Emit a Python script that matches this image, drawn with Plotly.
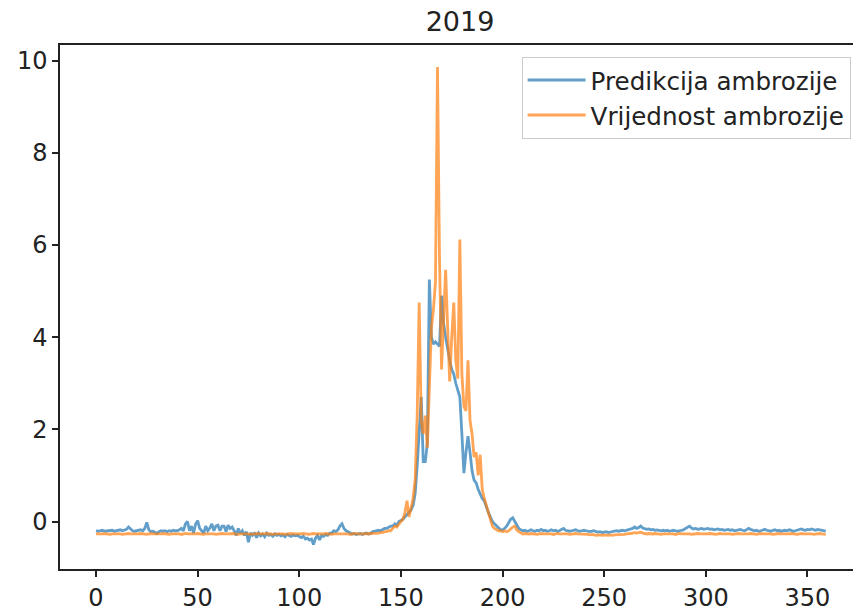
import plotly.graph_objects as go

title_text = "2019"
name_pred = "Predikcija ambrozije"
name_val = "Vrijednost ambrozije"

predikcija = [
    -0.20,-0.21,-0.20,-0.19,-0.20,-0.21,-0.20,-0.20,-0.19,-0.21,-0.20,-0.20,-0.18,-0.20,-0.19,-0.17,-0.12,-0.16,-0.20,-0.21,
    -0.20,-0.19,-0.18,-0.20,-0.15,-0.02,-0.18,-0.22,-0.21,-0.23,-0.26,-0.22,-0.20,-0.21,-0.20,-0.22,-0.20,-0.21,-0.19,-0.20,
    -0.20,-0.18,-0.15,-0.20,-0.05,0.00,-0.20,-0.10,-0.25,-0.06,0.02,-0.15,-0.20,-0.25,-0.10,-0.20,-0.14,-0.05,-0.20,-0.10,
    -0.08,-0.20,-0.10,-0.10,-0.22,-0.08,-0.15,-0.12,-0.20,-0.30,-0.15,-0.26,-0.20,-0.30,-0.22,-0.45,-0.25,-0.30,-0.24,-0.35,
    -0.25,-0.31,-0.27,-0.33,-0.25,-0.30,-0.28,-0.32,-0.27,-0.30,-0.28,-0.31,-0.29,-0.33,-0.28,-0.30,-0.32,-0.29,-0.31,-0.30,
    -0.33,-0.35,-0.32,-0.38,-0.36,-0.40,-0.38,-0.50,-0.36,-0.30,-0.40,-0.30,-0.32,-0.28,-0.30,-0.25,-0.25,-0.20,-0.22,-0.18,
    -0.10,-0.05,-0.15,-0.20,-0.22,-0.25,-0.27,-0.26,-0.28,-0.27,-0.26,-0.28,-0.27,-0.25,-0.27,-0.26,-0.22,-0.21,-0.20,-0.19,
    -0.20,-0.18,-0.15,-0.15,-0.12,-0.10,-0.10,-0.05,-0.08,0.00,0.02,0.05,0.10,0.15,0.20,0.25,0.35,0.60,1.20,2.10,
    2.70,1.30,1.30,1.70,5.25,4.00,3.85,3.90,3.85,3.80,4.90,4.30,4.00,3.70,3.50,3.30,3.20,3.00,2.85,2.70,
    1.90,1.05,1.50,1.85,1.50,1.10,0.90,0.84,0.70,0.60,0.50,0.45,0.30,0.20,0.10,0.00,-0.05,-0.10,-0.15,-0.18,
    -0.18,-0.15,-0.10,-0.02,0.05,0.08,0.00,-0.10,-0.15,-0.18,-0.20,-0.19,-0.21,-0.20,-0.18,-0.20,-0.21,-0.19,-0.20,-0.17,
    -0.20,-0.19,-0.21,-0.20,-0.18,-0.20,-0.19,-0.21,-0.20,-0.17,-0.15,-0.19,-0.20,-0.21,-0.20,-0.19,-0.18,-0.20,-0.21,-0.20,
    -0.19,-0.20,-0.21,-0.22,-0.21,-0.20,-0.22,-0.23,-0.22,-0.24,-0.23,-0.22,-0.24,-0.23,-0.22,-0.21,-0.20,-0.21,-0.20,-0.19,
    -0.20,-0.19,-0.18,-0.17,-0.15,-0.12,-0.15,-0.13,-0.10,-0.14,-0.15,-0.17,-0.16,-0.18,-0.17,-0.19,-0.18,-0.19,-0.20,-0.19,
    -0.20,-0.19,-0.21,-0.20,-0.19,-0.20,-0.21,-0.20,-0.19,-0.18,-0.15,-0.12,-0.10,-0.14,-0.16,-0.15,-0.17,-0.16,-0.15,-0.17,
    -0.16,-0.15,-0.17,-0.16,-0.18,-0.17,-0.16,-0.18,-0.17,-0.19,-0.18,-0.17,-0.19,-0.18,-0.20,-0.19,-0.18,-0.17,-0.19,-0.20,
    -0.18,-0.15,-0.17,-0.19,-0.20,-0.19,-0.21,-0.20,-0.18,-0.17,-0.19,-0.20,-0.21,-0.19,-0.18,-0.20,-0.19,-0.21,-0.20,-0.19,
    -0.20,-0.18,-0.19,-0.21,-0.20,-0.19,-0.17,-0.16,-0.18,-0.19,-0.17,-0.18,-0.16,-0.18,-0.19,-0.17,-0.18,-0.19,-0.20,-0.21,
]

vrijednost = [
    -0.27,-0.27,-0.28,-0.27,-0.26,-0.27,-0.27,-0.28,-0.27,-0.27,-0.26,-0.27,-0.27,-0.28,-0.27,-0.27,-0.26,-0.27,-0.27,-0.28,
    -0.27,-0.27,-0.26,-0.27,-0.27,-0.28,-0.27,-0.26,-0.27,-0.27,-0.28,-0.27,-0.27,-0.26,-0.27,-0.27,-0.28,-0.27,-0.27,-0.26,
    -0.27,-0.27,-0.28,-0.27,-0.26,-0.27,-0.27,-0.28,-0.27,-0.27,-0.26,-0.27,-0.27,-0.28,-0.27,-0.27,-0.26,-0.27,-0.27,-0.28,
    -0.27,-0.27,-0.26,-0.27,-0.27,-0.28,-0.27,-0.26,-0.27,-0.27,-0.28,-0.27,-0.27,-0.26,-0.27,-0.27,-0.28,-0.27,-0.27,-0.26,
    -0.27,-0.27,-0.28,-0.27,-0.26,-0.27,-0.27,-0.28,-0.27,-0.27,-0.26,-0.27,-0.27,-0.28,-0.27,-0.27,-0.26,-0.27,-0.27,-0.28,
    -0.27,-0.27,-0.26,-0.27,-0.27,-0.28,-0.27,-0.26,-0.27,-0.27,-0.28,-0.27,-0.27,-0.26,-0.27,-0.27,-0.28,-0.27,-0.27,-0.26,
    -0.27,-0.27,-0.26,-0.27,-0.27,-0.28,-0.27,-0.26,-0.27,-0.27,-0.28,-0.27,-0.27,-0.26,-0.27,-0.26,-0.26,-0.25,-0.26,-0.25,
    -0.24,-0.24,-0.22,-0.22,-0.20,-0.20,-0.15,-0.10,-0.12,-0.05,0.00,0.05,0.20,0.45,0.10,0.30,0.50,0.90,2.30,4.75,
    2.20,1.90,2.30,1.60,3.00,4.20,4.60,5.20,9.86,5.67,3.30,4.50,5.46,4.20,3.04,4.00,4.75,3.50,3.10,6.12,
    3.20,2.50,2.40,3.50,2.20,1.90,1.40,1.50,1.00,1.45,0.70,0.50,0.35,0.15,0.00,-0.10,-0.15,-0.18,-0.20,-0.20,
    -0.22,-0.20,-0.22,-0.20,-0.15,-0.12,-0.10,-0.18,-0.22,-0.25,-0.27,-0.26,-0.27,-0.27,-0.26,-0.27,-0.27,-0.28,-0.27,-0.26,
    -0.27,-0.27,-0.26,-0.27,-0.27,-0.28,-0.27,-0.26,-0.27,-0.27,-0.26,-0.27,-0.27,-0.28,-0.27,-0.27,-0.26,-0.27,-0.27,-0.28,
    -0.27,-0.28,-0.28,-0.29,-0.28,-0.29,-0.30,-0.29,-0.30,-0.30,-0.29,-0.30,-0.30,-0.29,-0.30,-0.29,-0.29,-0.28,-0.29,-0.28,
    -0.28,-0.27,-0.27,-0.26,-0.25,-0.24,-0.25,-0.24,-0.23,-0.25,-0.26,-0.27,-0.26,-0.27,-0.27,-0.26,-0.27,-0.27,-0.28,-0.27,
    -0.27,-0.27,-0.26,-0.27,-0.27,-0.28,-0.27,-0.26,-0.27,-0.27,-0.26,-0.27,-0.27,-0.28,-0.27,-0.27,-0.26,-0.27,-0.27,-0.28,
    -0.27,-0.27,-0.26,-0.27,-0.27,-0.28,-0.27,-0.26,-0.27,-0.27,-0.26,-0.27,-0.27,-0.28,-0.27,-0.27,-0.26,-0.27,-0.27,-0.28,
    -0.27,-0.27,-0.26,-0.27,-0.27,-0.28,-0.27,-0.26,-0.27,-0.27,-0.26,-0.27,-0.27,-0.28,-0.27,-0.27,-0.26,-0.27,-0.27,-0.28,
    -0.27,-0.27,-0.26,-0.27,-0.27,-0.28,-0.27,-0.26,-0.27,-0.27,-0.26,-0.27,-0.27,-0.28,-0.27,-0.27,-0.26,-0.27,-0.27,-0.28,
]

x_ticks = [0, 50, 100, 150, 200, 250, 300, 350]
y_ticks = [0, 2, 4, 6, 8, 10]

days = list(range(len(predikcija)))

fig = go.Figure()
fig.add_trace(go.Scatter(x=days, y=predikcija, mode="lines", name=name_pred, legendgroup="p",
                         line=dict(color="#1f77b4", width=2.8), opacity=0.7))
fig.add_trace(go.Scatter(x=list(range(len(vrijednost))), y=vrijednost, mode="lines", name=name_val,
                         legendgroup="v", line=dict(color="#ff7f0e", width=2.8), opacity=0.7))

font_family = "DejaVu Sans"
fig.update_layout(
    width=853, height=615,
    margin=dict(l=60, r=0, t=45, b=46),
    paper_bgcolor="white", plot_bgcolor="white",
    font=dict(family=font_family, size=24, color="#222"),
    title=dict(text=title_text, x=(460 / 853), xanchor="center", y=1 - 22 / 615, yanchor="middle",
               font=dict(size=27, family=font_family, color="#222")),
    showlegend=True,
    legend=dict(x=0.997, xanchor="right", y=0.978, yanchor="top",
                traceorder="grouped", tracegroupgap=0, itemwidth=58,
                bordercolor="#cccccc", borderwidth=1, bgcolor="rgba(255,255,255,0.8)",
                font=dict(size=24.6, family=font_family, color="#222")),
    xaxis=dict(range=[-17.7, 372.4], tickvals=x_ticks, ticks="outside", ticklen=6, tickwidth=1.5,
               tickcolor="#222", showline=True, linecolor="#222", linewidth=1.5, mirror=True,
               showgrid=False, zeroline=False),
    yaxis=dict(range=[-1.03, 10.34], tickvals=y_ticks, ticks="outside", ticklen=6, tickwidth=1.5,
               tickcolor="#222", showline=True, linecolor="#222", linewidth=1.5, mirror=False,
               showgrid=False, zeroline=False),
)

fig.write_html("out.html", config={"displayModeBar": False},
               post_script="document.body.style.margin='0';document.body.style.overflow='hidden';")
